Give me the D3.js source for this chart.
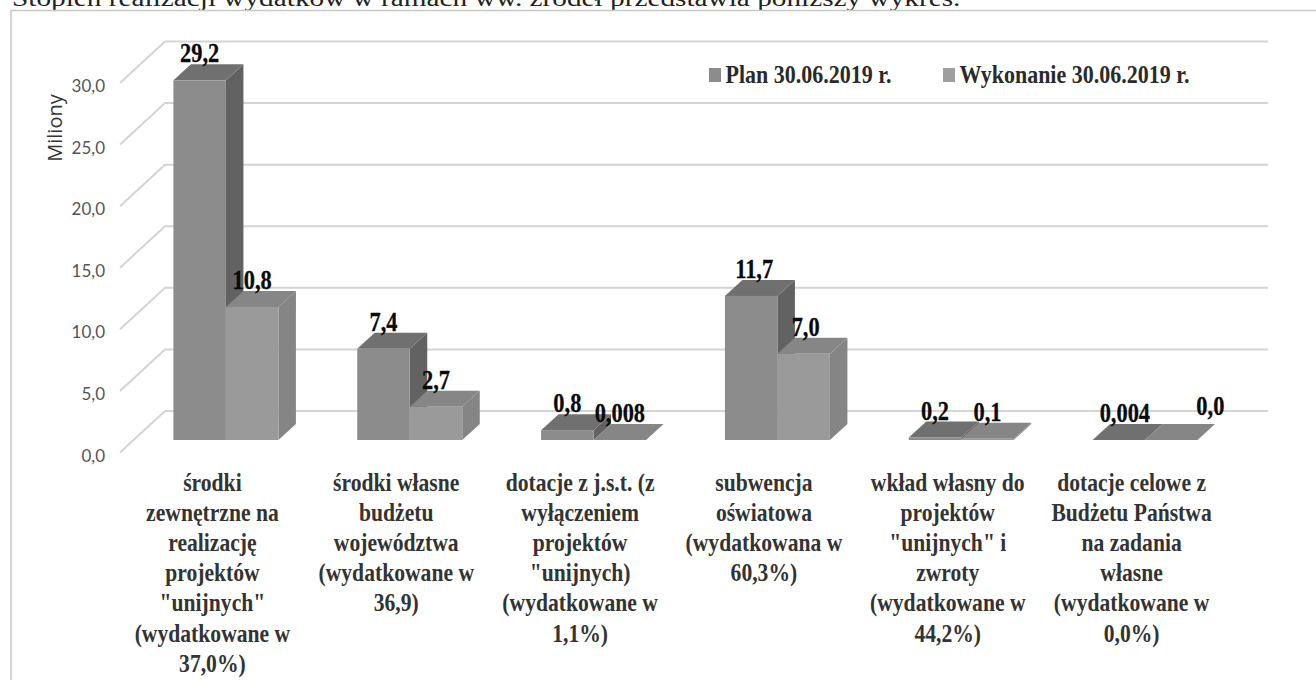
<!DOCTYPE html>
<html>
<head>
<meta charset="utf-8">
<script src="https://cdn.jsdelivr.net/npm/d3@7"></script>
<style>
  html, body { margin: 0; padding: 0; background: #fff; overflow: hidden; }
</style>
</head>
<body>
<div id="chart"></div>
<script>
// values
var categories = [
  ["środki", "zewnętrzne na", "realizację", "projektów", "\"unijnych\"", "(wydatkowane w", "37,0%)"],
  ["środki własne", "budżetu", "województwa", "(wydatkowane w", "36,9)"],
  ["dotacje z j.s.t. (z", "wyłączeniem", "projektów", "\"unijnych)", "(wydatkowane w", "1,1%)"],
  ["subwencja", "oświatowa", "(wydatkowana w", "60,3%)"],
  ["wkład własny do", "projektów", "\"unijnych\" i", "zwroty", "(wydatkowane w", "44,2%)"],
  ["dotacje celowe z", "Budżetu Państwa", "na zadania", "własne", "(wydatkowane w", "0,0%)"]
];
var plan = [29.2, 7.4, 0.8, 11.7, 0.2, 0.004];
var planLabels = ["29,2", "7,4", "0,8", "11,7", "0,2", "0,004"];
var wykonanie = [10.8, 2.7, 0.008, 7.0, 0.1, 0.0];
var wykonanieLabels = ["10,8", "2,7", "0,008", "7,0", "0,1", "0,0"];
var ticks = [0, 5, 10, 15, 20, 25, 30];
var seriesNames = ["Plan 30.06.2019 r.", "Wykonanie 30.06.2019 r."];

var width = 1316, height = 680;
var serif = "'Liberation Serif', serif";

// floor of the 3d box: front edge and how far the back wall is shifted
var wallDx = 45, wallDy = -41.5;
// bars stand a bit behind the front edge and have their own depth
var barDx = 17.5, barDy = -16, barOffsetY = -12.5;

var svg = d3.select("#chart").append("svg")
  .attr("width", width)
  .attr("height", height);

var x = d3.scaleBand()
  .domain(d3.range(categories.length))
  .range([120, 1223]);

var y = d3.scaleLinear()
  .domain([0, 30])
  .range([452.5, 83]);

// text here is narrow and tall in the scan so squeeze it horizontally
function squeezed(parent, px, py, str, size, sx, anchor, weight, color) {
  return parent.append("text")
    .attr("transform", "translate(" + px + "," + py + ") scale(" + sx + ",1)")
    .attr("text-anchor", anchor || "middle")
    .style("font-family", serif)
    .style("font-size", size + "px")
    .style("font-weight", weight || "bold")
    .style("fill", color || "#0a0a0a")
    .text(str);
}

// sentence above the chart, cut by the top of the page like in the original
squeezed(svg, 12, 6, "Stopień realizacji wydatków w ramach ww. źródeł przedstawia poniższy wykres.", 24, 1.22, "start", "normal", "#222");

// frame, runs off the right and bottom of the page
svg.append("rect")
  .attr("x", 11).attr("y", 10.5)
  .attr("width", 1340).attr("height", 700)
  .attr("fill", "none")
  .attr("stroke", "#c8c8c8")
  .attr("stroke-width", 1.5);

// gridlines, floor diagonal + back wall line
var grid = svg.append("g");
grid.selectAll("path")
  .data(ticks)
  .enter()
  .append("path")
    .attr("fill", "none")
    .attr("stroke", "#d4d4d4")
    .attr("stroke-width", 2)
    .attr("d", function(d) {
      return d3.line()([
        [120, y(d)],
        [120 + wallDx, y(d) + wallDy],
        [1223 + wallDx, y(d) + wallDy]
      ]);
    });

// tick labels
svg.selectAll(".tick-label")
  .data(ticks)
  .enter()
  .append("text")
    .attr("class", "tick-label")
    .attr("x", 105)
    .attr("y", function(d) { return y(d) + 9; })
    .attr("text-anchor", "end")
    .style("font-family", "Lato, sans-serif")
    .style("font-size", "17px")
    .style("fill", "#555")
    .text(function(d) { return d3.format(".1f")(d).replace(".", ","); });

svg.append("text")
  .attr("transform", "translate(62,128) rotate(-90)")
  .attr("text-anchor", "middle")
  .style("font-family", "'Open Sans', sans-serif")
  .style("font-size", "20px")
  .style("fill", "#333")
  .text("Miliony");

var barWidth = 52.5;

// one 3d bar
function drawBar(g, bx, value, colors) {
  var top = y(value) + barOffsetY;
  var base = y(0) + barOffsetY;
  g.append("polygon")
    .attr("fill", colors.side)
    .attr("points", [
      [bx + barWidth, top], [bx + barWidth + barDx, top + barDy],
      [bx + barWidth + barDx, base + barDy], [bx + barWidth, base]
    ].join(" "));
  g.append("polygon")
    .attr("fill", colors.top)
    .attr("points", [
      [bx, top], [bx + barDx, top + barDy],
      [bx + barWidth + barDx, top + barDy], [bx + barWidth, top]
    ].join(" "));
  g.append("rect")
    .attr("x", bx).attr("y", top)
    .attr("width", barWidth).attr("height", base - top)
    .attr("fill", colors.front);
}

var planColors = {front: "#8c8c8c", top: "#707070", side: "#626262"};
var wykColors = {front: "#9a9a9a", top: "#868686", side: "#858585"};

var bars = svg.append("g");
categories.forEach(function(c, i) {
  var center = x(i) + x.bandwidth() / 2 + 14;
  drawBar(bars, center - barWidth, plan[i], planColors);
  drawBar(bars, center, wykonanie[i], wykColors);
});

// data labels sit on the back edge of the bar top, a few moved by hand like in the original
var wykNudge = {3: [2, 0], 5: [39, -7]};
var planNudge = {3: [3, 0], 5: [6, 0]};
var labels = svg.append("g");
categories.forEach(function(c, i) {
  var center = x(i) + x.bandwidth() / 2 + 14;
  var pn = planNudge[i] || [0, 0], wn = wykNudge[i] || [0, 0];
  squeezed(labels, center - barWidth / 2 + pn[0], y(plan[i]) + barOffsetY + barDy - 2 + pn[1], planLabels[i], 28, 0.8)
    .style("stroke", "#0a0a0a").style("stroke-width", 0.3);
  squeezed(labels, center + barWidth / 2 + wn[0], y(wykonanie[i]) + barOffsetY + barDy - 2 + wn[1], wykonanieLabels[i], 28, 0.8)
    .style("stroke", "#0a0a0a").style("stroke-width", 0.3);
});

// category labels
var catLabels = svg.append("g");
categories.forEach(function(lines, i) {
  lines.forEach(function(line, j) {
    squeezed(catLabels, x(i) + x.bandwidth() / 2 + 0.5, 490.5 + j * 30.2, line, 25, 0.865, "middle", "bold", "#333");
  });
});

// legend
var legend = svg.append("g");
seriesNames.forEach(function(name, i) {
  var lx = [709, 943][i];
  legend.append("rect")
    .attr("x", lx).attr("y", 68)
    .attr("width", 12).attr("height", 14)
    .attr("fill", i == 0 ? "#8c8c8c" : "#9e9e9e");
  squeezed(legend, lx + 16.5, 83, name, 26, 0.846, "start", "bold", "#2a2a2a");
});
</script>
</body>
</html>
